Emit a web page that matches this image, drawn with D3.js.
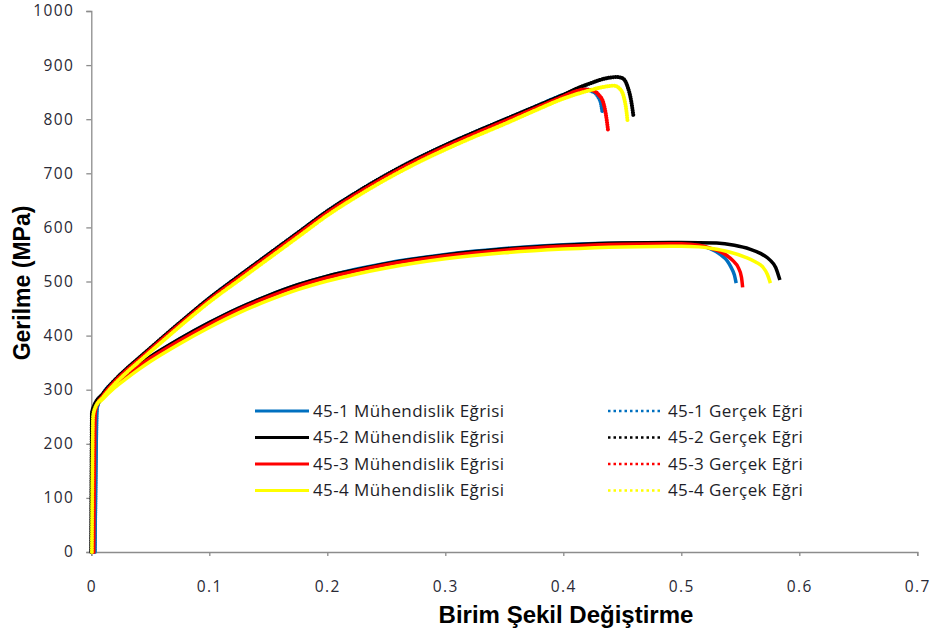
<!DOCTYPE html>
<html>
<head>
<meta charset="utf-8">
<script src="https://cdn.jsdelivr.net/npm/d3@7"></script>
<style>
  html, body { margin: 0; padding: 0; background: #fff; }
  svg { display: block; }
</style>
</head>
<body>
<svg id="chart" width="933" height="633"></svg>
<script>
// Tick values
const xTicks = [0, 0.1, 0.2, 0.3, 0.4, 0.5, 0.6, 0.7];
const yTicks = [0, 100, 200, 300, 400, 500, 600, 700, 800, 900, 1000];

// Engineering stress–strain curves: [strain, stress MPa]
const eng1 = [[0.003,0],[0.0045,255],[0.005,268],[0.01,289],[0.02,311],[0.03,329],[0.04,345],[0.05,360],[0.075,394],[0.1,424],[0.125,451],[0.15,474],[0.175,494],[0.2,510],[0.225,523],[0.25,534],[0.3,550],[0.35,561],[0.4,568],[0.45,571],[0.5,571],[0.515,567],[0.524,561],[0.533,550],[0.539,538],[0.542,527],[0.545,512],[0.5465,497]];
const eng2 = [[0,0],[0.0005,255],[0.002,268],[0.01,290],[0.02,312],[0.03,330],[0.04,346],[0.05,361],[0.075,394],[0.1,424],[0.125,451],[0.15,474],[0.175,494],[0.2,510],[0.225,522],[0.25,533],[0.3,549],[0.35,560],[0.4,567],[0.45,571],[0.5,572],[0.53,571],[0.545,567],[0.558,560],[0.567,552],[0.575,540],[0.58,526],[0.5835,503]];
const eng3 = [[0.002,0],[0.0032,255],[0.004,267],[0.01,287],[0.02,309],[0.03,327],[0.04,343],[0.05,358],[0.075,391],[0.1,421],[0.125,448],[0.15,471],[0.175,491],[0.2,507],[0.225,520],[0.25,531],[0.3,547],[0.35,558],[0.4,565],[0.45,569],[0.5,570],[0.515,567],[0.524,562],[0.532,556],[0.538,549],[0.544,538],[0.548,527],[0.551,508],[0.552,489]];
const eng4 = [[0.0005,0],[0.0015,250],[0.003,265],[0.01,283],[0.02,304],[0.03,321],[0.04,337],[0.05,352],[0.075,385],[0.1,415],[0.125,442],[0.15,465],[0.175,485],[0.2,501],[0.225,514],[0.25,525],[0.3,542],[0.35,553],[0.4,560],[0.45,564],[0.5,565],[0.515,564],[0.526,561],[0.54,555],[0.554,545],[0.563,536],[0.569,527],[0.573,513],[0.5755,497]];

// True stress–strain curves: [strain, stress MPa]
const true1 = [[0.003,0],[0.0045,255],[0.005,268],[0.01,292],[0.02,317],[0.03,338],[0.04,357],[0.05,376],[0.075,423],[0.1,469],[0.125,510],[0.15,550],[0.175,590],[0.2,630],[0.225,665],[0.25,697],[0.275,726],[0.3,752],[0.325,776],[0.35,799],[0.375,822],[0.4,845],[0.41,852],[0.418,855],[0.424,852],[0.429,843],[0.432,828],[0.433,815]];
const true2 = [[0,0],[0.0005,255],[0.002,268],[0.01,293],[0.02,318],[0.03,339],[0.04,358],[0.05,377],[0.075,424],[0.1,469],[0.125,510],[0.15,550],[0.175,590],[0.2,630],[0.225,665],[0.25,697],[0.275,726],[0.3,752],[0.325,776],[0.35,799],[0.375,822],[0.4,845],[0.414,859],[0.425,868],[0.435,875],[0.445,878],[0.45,876],[0.4545,860],[0.4576,833],[0.4593,808]];
const true3 = [[0.002,0],[0.0032,255],[0.004,267],[0.01,289],[0.02,315],[0.03,336],[0.04,355],[0.05,374],[0.075,421],[0.1,466],[0.125,507],[0.15,547],[0.175,587],[0.2,627],[0.225,662],[0.25,694],[0.275,723],[0.3,749],[0.325,773],[0.35,796],[0.375,819],[0.4,842],[0.41,851],[0.418,855],[0.425,853],[0.43,845],[0.434,830],[0.436,810],[0.438,778]];
const true4 = [[0.0005,0],[0.0015,250],[0.003,265],[0.01,286],[0.02,311],[0.03,332],[0.04,351],[0.05,370],[0.075,417],[0.1,462],[0.125,502],[0.15,542],[0.175,582],[0.2,622],[0.225,657],[0.25,689],[0.275,718],[0.3,744],[0.325,768],[0.35,791],[0.375,815],[0.4,838],[0.42,852],[0.435,860],[0.443,862],[0.448,856],[0.4515,839],[0.4535,815],[0.4545,795]];

const seriesNames = [
  "45-1 Mühendislik Eğrisi", "45-2 Mühendislik Eğrisi", "45-3 Mühendislik Eğrisi", "45-4 Mühendislik Eğrisi",
  "45-1 Gerçek Eğri", "45-2 Gerçek Eğri", "45-3 Gerçek Eğri", "45-4 Gerçek Eğri"
];
const seriesData = [eng1, eng2, eng3, eng4, true1, true2, true3, true4];
const seriesColors = ["#0070C0", "#000000", "#FF0000", "#FFFF00", "#0070C0", "#000000", "#FF0000", "#FFFF00"];
const seriesDotted = [false, false, false, false, true, true, true, true];

const xTitle = "Birim Şekil Değiştirme";
const yTitle = "Gerilme (MPa)";

const svg = d3.select("#chart");
svg.append("rect").attr("width", 933).attr("height", 633).attr("fill", "#fff");

const x = d3.scaleLinear().domain([0, 0.7]).range([91.3, 917.3]);
const y = d3.scaleLinear().domain([0, 1000]).range([552, 11]);

const tickFont = "'Open Sans', sans-serif";
const axisColor = "#8c8c8c";

// Y axis
const gy = svg.append("g").attr("transform", `translate(${x(0)},0)`)
  .call(d3.axisLeft(y).tickValues(yTicks).tickSize(5).tickPadding(12).tickFormat(d => String(d)));
// X axis
const gx = svg.append("g").attr("transform", `translate(0,${y(0)})`)
  .call(d3.axisBottom(x).tickValues(xTicks).tickSize(4).tickPadding(25).tickFormat(d => String(d)));

[gx, gy].forEach(g => {
  g.select(".domain").attr("stroke", axisColor).attr("stroke-width", 1.3);
  g.selectAll(".tick line").attr("stroke", axisColor).attr("stroke-width", 1.3);
  g.selectAll(".tick text").attr("fill", "#2a2a35")
    .style("font-family", tickFont).style("font-size", "15.5px").style("letter-spacing", "1.4px");
});

// Curves
const line = d3.line().x(d => x(d[0])).y(d => y(d[1])).curve(d3.curveMonotoneX);
const plot = svg.append("g");
seriesData.forEach((data, i) => {
  const p = plot.append("path")
    .attr("d", line(data))
    .attr("fill", "none")
    .attr("stroke", seriesColors[i])
    .attr("stroke-linejoin", "round");
  if (seriesDotted[i]) {
    p.attr("stroke-width", 4).attr("stroke-linecap", "round").attr("stroke-dasharray", "0.1 2.2");
  } else {
    p.attr("stroke-width", 3.5).attr("stroke-linecap", "butt");
  }
});

// Axis titles
svg.append("text")
  .attr("x", 566).attr("y", 623)
  .attr("text-anchor", "middle")
  .style("font-family", "'Liberation Sans', Arial, sans-serif")
  .style("font-weight", "bold").style("font-size", "24px")
  .attr("fill", "#000")
  .text(xTitle);

svg.append("text")
  .attr("transform", "translate(30,283) rotate(-90)")
  .attr("text-anchor", "middle")
  .style("font-family", "'Liberation Sans', Arial, sans-serif")
  .style("font-weight", "bold").style("font-size", "23px")
  .attr("fill", "#000")
  .text(yTitle);

// Legend: two columns of four entries
const legendRows = [411, 437.5, 464, 490.5];
const legend = svg.append("g");
seriesNames.forEach((name, i) => {
  const col = i < 4 ? 0 : 1;
  const row = i % 4;
  const ly = legendRows[row];
  const x0 = col === 0 ? 255 : 608;
  const x1 = col === 0 ? 309 : 661;
  const tx = col === 0 ? 313 : 668;
  const l = legend.append("line")
    .attr("x1", x0).attr("x2", x1).attr("y1", ly).attr("y2", ly)
    .attr("stroke", seriesColors[i]);
  if (seriesDotted[i]) {
    l.attr("stroke-width", 2.5).attr("stroke-dasharray", "2.5 3");
  } else {
    l.attr("stroke-width", 3);
  }
  legend.append("text")
    .attr("x", tx).attr("y", ly).attr("dy", "0.35em")
    .style("font-family", tickFont).style("font-size", "17px").style("letter-spacing", "0.4px")
    .attr("fill", "#1e1e28")
    .text(name);
});
</script>
</body>
</html>
